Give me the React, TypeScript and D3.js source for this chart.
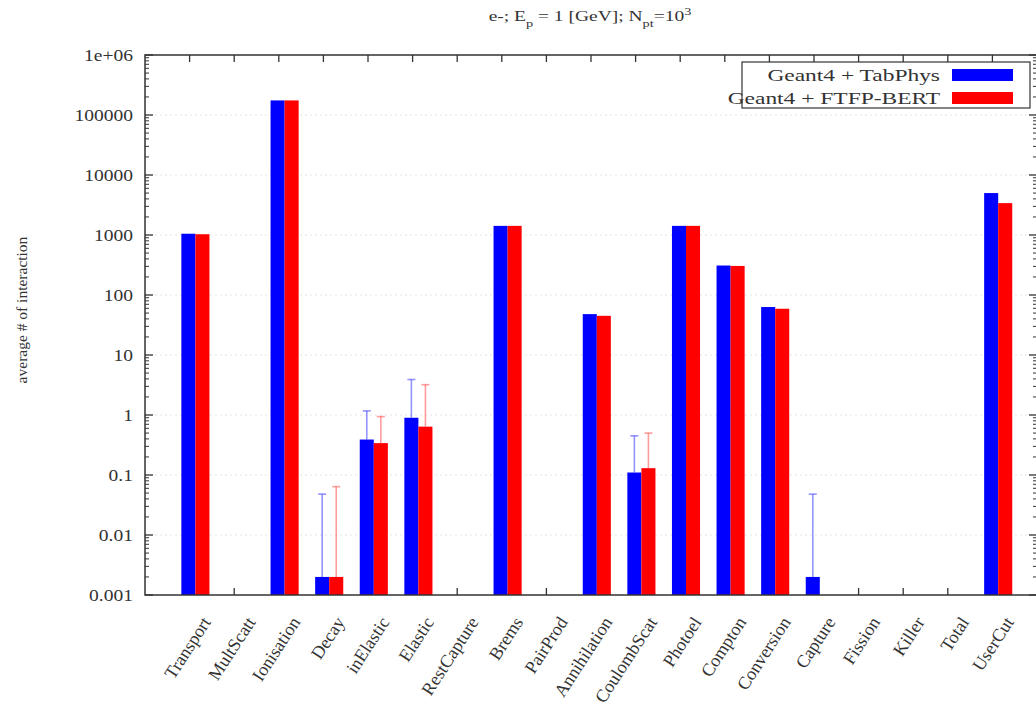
import React from "react";
import * as d3 from "d3";

const categories = ["Transport","MultScatt","Ionisation","Decay","inElastic","Elastic","RestCapture","Brems","PairProd","Annihilation","CoulombScat","Photoel","Compton","Conversion","Capture","Fission","Killer","Total","UserCut"];
const tabPhys = [1050, 0, 175000, 0.002, 0.39, 0.9, 0, 1420, 0, 48, 0.11, 1420, 310, 63, 0.002, 0, 0, 0, 5000];
const ftfpBert = [1030, 0, 175000, 0.002, 0.34, 0.64, 0, 1420, 0, 45, 0.13, 1420, 305, 59, 0, 0, 0, 0, 3400];
const tabPhysErrTop = [0, 0, 0, 0.048, 1.17, 3.9, 0, 0, 0, 0, 0.45, 0, 0, 0, 0.048, 0, 0, 0, 0];
const ftfpBertErrTop = [0, 0, 0, 0.064, 0.94, 3.2, 0, 0, 0, 0, 0.5, 0, 0, 0, 0, 0, 0, 0, 0];
const yTickValues = [1e-3, 1e-2, 1e-1, 1, 10, 100, 1000, 10000, 100000, 1e6];
const yTickLabels = ["0.001", "0.01", "0.1", "1", "10", "100", "1000", "10000", "100000", "1e+06"];
const seriesNames = ["Geant4 + TabPhys", "Geant4 + FTFP-BERT"];
const seriesColors = ["#0000ff", "#ff0000"];
const errColors = ["rgba(60,60,255,0.55)", "rgba(255,60,60,0.5)"];

const W = 1036, H = 711;
const L = 145, R = 1037, T = 55, B = 595;
const FONT = "'Liberation Serif', 'DejaVu Serif', serif";

export default function App() {
  const x = d3.scaleLinear().domain([-1, 19]).range([L, R]);
  const y = d3.scaleLog().domain([1e-3, 1e6]).range([B, T]);
  const unit = x(1) - x(0);
  const bw = unit * 0.315;
  const off = -unit * 0.185;
  const series = [tabPhys, ftfpBert];
  const errs = [tabPhysErrTop, ftfpBertErrTop];

  const minor: number[] = [];
  for (let e = -3; e < 6; e++) for (let m = 2; m <= 9; m++) minor.push(m * Math.pow(10, e));

  const sx = 1.22;
  return (
    <svg width={W} height={H} style={{ position: "absolute", left: 0, top: 0, background: "#fff" }} fontFamily={FONT}>
      <rect x={0} y={0} width={W} height={H} fill="#fff" />
      {yTickValues.slice(1, -1).map((v, i) => (
        <line key={"g" + i} x1={L} x2={R} y1={y(v)} y2={y(v)} stroke="#e4e4e4" strokeWidth={1} strokeDasharray="2,3" />
      ))}
      {categories.map((c, i) => (
        <g key={"xt" + i}>
          <line x1={x(i)} x2={x(i)} y1={B} y2={B - 7} stroke="#333" strokeWidth={1.3} />
          <line x1={x(i)} x2={x(i)} y1={T} y2={T + 7} stroke="#333" strokeWidth={1.3} />
        </g>
      ))}
      {yTickValues.map((v, i) => (
        <g key={"yt" + i}>
          <line x1={L} x2={L + 8} y1={y(v)} y2={y(v)} stroke="#333" strokeWidth={1.3} />
          <line x1={R} x2={R - 8} y1={y(v)} y2={y(v)} stroke="#333" strokeWidth={1.3} />
          <text transform={`translate(${L - 12},${y(v) + 6}) scale(${sx},1)`} textAnchor="end" fontSize={16} fill="#333">{yTickLabels[i]}</text>
        </g>
      ))}
      {minor.map((v, i) => (
        <g key={"ym" + i}>
          <line x1={L} x2={L + 4} y1={y(v)} y2={y(v)} stroke="#333" strokeWidth={1} />
          <line x1={R} x2={R - 4} y1={y(v)} y2={y(v)} stroke="#333" strokeWidth={1} />
        </g>
      ))}
      {series.map((vals, s) =>
        vals.map((v, i) =>
          v > 0 ? (
            <rect key={`b${s}-${i}`} x={x(i) + off + s * bw} y={y(v)} width={bw} height={B - y(v)} fill={seriesColors[s]} />
          ) : null
        )
      )}
      {errs.map((vals, s) =>
        vals.map((v, i) =>
          v > 0 ? (
            <g key={`e${s}-${i}`} stroke={errColors[s]} strokeWidth={1.6}>
              <line x1={x(i) + off + s * bw + bw / 2} x2={x(i) + off + s * bw + bw / 2} y1={y(series[s][i])} y2={y(v)} />
              <line x1={x(i) + off + s * bw + bw / 2 - 4} x2={x(i) + off + s * bw + bw / 2 + 4} y1={y(v)} y2={y(v)} />
            </g>
          ) : null
        )
      )}
      <rect x={L} y={T} width={R - L} height={B - T} fill="none" stroke="#333" strokeWidth={1.5} />
      {categories.map((c, i) => (
        <text key={"xl" + i} transform={`translate(${x(i) + 22},${B + 27}) rotate(-57)`} textAnchor="end" fontSize={18} fill="#333">{c}</text>
      ))}
      <text transform={`translate(27,310) rotate(-90)`} textAnchor="middle" fontSize={15.5} fill="#333">average # of interaction</text>
      <text transform={`translate(590,21) scale(1.3,1)`} textAnchor="middle" fontSize={15} fill="#333">
        e-; E<tspan baselineShift="sub" fontSize={11}>p</tspan> = 1 [GeV]; N<tspan baselineShift="sub" fontSize={11}>pt</tspan>=10<tspan baselineShift="super" fontSize={11}>3</tspan>
      </text>
      <rect x={742} y={62} width={288} height={46} fill="#fff" stroke="#333" strokeWidth={1.2} />
      {seriesNames.map((n, s) => (
        <g key={"lg" + s}>
          <text transform={`translate(940,${81 + s * 23}) scale(1.38,1)`} textAnchor="end" fontSize={17} fill="#333">{n}</text>
          <rect x={952} y={69 + s * 23} width={61} height={12} fill={seriesColors[s]} />
        </g>
      ))}
    </svg>
  );
}
